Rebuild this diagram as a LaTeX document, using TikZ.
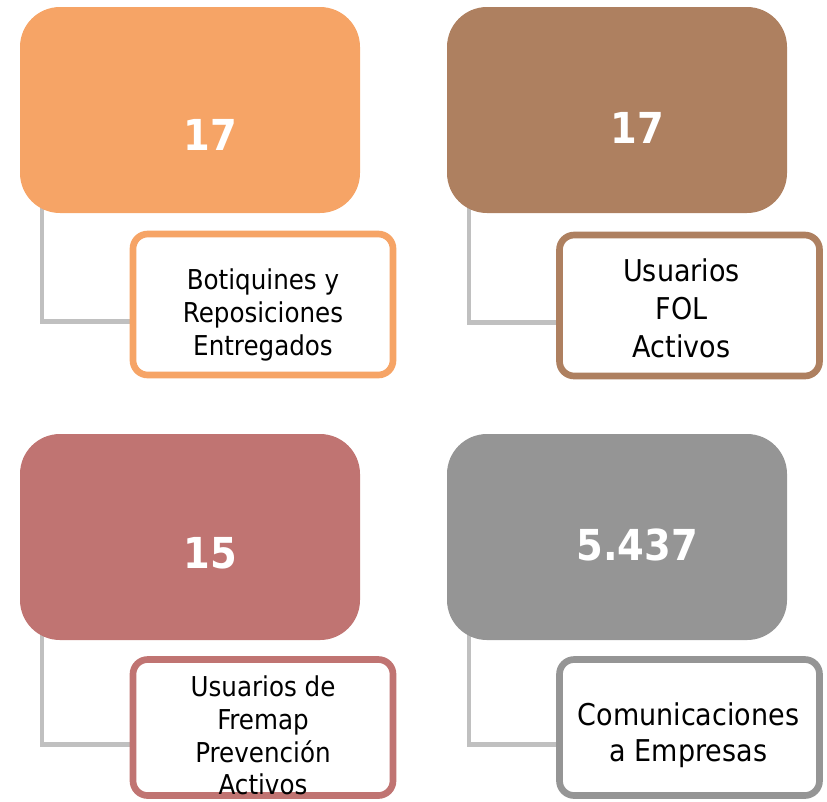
\documentclass[tikz,border=0pt]{standalone}
\usepackage{fontspec}
\setmainfont{DejaVu Sans Condensed}
\usetikzlibrary{calc,backgrounds}
\definecolor{corange}{HTML}{F6A466}
\definecolor{cbrown}{HTML}{AE8060}
\definecolor{crose}{HTML}{C07472}
\definecolor{cgray}{HTML}{959595}
\definecolor{cline}{HTML}{C0C0C0}
\tikzset{
  bigbox/.style={rectangle, rounded corners=30pt, minimum width=255pt, minimum height=154.5pt, inner sep=0pt},
  smallbox/.style={rectangle, rounded corners=11pt, fill=white, line width=5pt, minimum width=195pt, minimum height=105.75pt, inner sep=0pt},
  lbl/.style={align=center, inner sep=0pt},
  num/.style={text=white, font=\bfseries\fontsize{32}{36}\selectfont},
  conn/.style={draw=cline, line width=3.2pt},
}
\begin{document}
\begin{tikzpicture}[x=0.75pt,y=-0.75pt]
\useasboundingbox (0,0) rectangle (827,801);
% big boxes
\node[bigbox, fill=corange] (b1) at (190,110) {};
\node[bigbox, fill=cbrown] (b2) at (617,110) {};
\node[bigbox, fill=crose] (b3) at (190,537) {};
\node[bigbox, fill=cgray] (b4) at (617,537) {};
% numbers
\node[num] (n1) at ($(b1.center)+(20,25)$) {17};
\node[num] (n2) at ($(b2.center)+(20,18)$) {17};
\node[num] (n3) at ($(b3.center)+(20,16)$) {15};
\node[num] (n4) at ($(b4.center)+(20,8)$) {5.437};
% small boxes
\node[smallbox, draw=corange] (s1) at (263,304.5) {};
\node[smallbox, draw=cbrown] (s2) at (689.5,305.5) {};
\node[smallbox, draw=crose, minimum height=102pt] (s3) at (263,727.5) {};
\node[smallbox, draw=cgray, minimum height=102pt] (s4) at (689.5,727.5) {};
% labels
\node[lbl, font=\fontsize{20.5}{24.75}\selectfont] (t1) at ($(s1.center)+(0,10)$) {Botiquines y\\Reposiciones\\Entregados};
\node[lbl, font=\fontsize{22.5}{28.5}\selectfont] (t2) at ($(s2.center)+(-8,3)$) {Usuarios\\FOL\\Activos};
\node[lbl, font=\fontsize{20.5}{24.5}\selectfont] (t3) at ($(s3.center)+(0,8)$) {Usuarios de\\Fremap\\Prevención\\Activos};
\node[lbl, font=\fontsize{22.5}{27}\selectfont] (t4) at ($(s4.center)+(-1,8)$) {Comunicaciones\\a Empresas};
% connectors
\begin{pgfonlayer}{background}
\draw[conn] ($(b1.south west)+(22,-20)$) |- ($(s1.west)+(0,17)$);
\draw[conn] ($(b2.south west)+(22,-20)$) |- ($(s2.west)+(0,17)$);
\draw[conn] ($(b3.south west)+(22,-20)$) |- ($(s3.west)+(0,17)$);
\draw[conn] ($(b4.south west)+(22,-20)$) |- ($(s4.west)+(0,17)$);
\end{pgfonlayer}
\end{tikzpicture}
\end{document}
